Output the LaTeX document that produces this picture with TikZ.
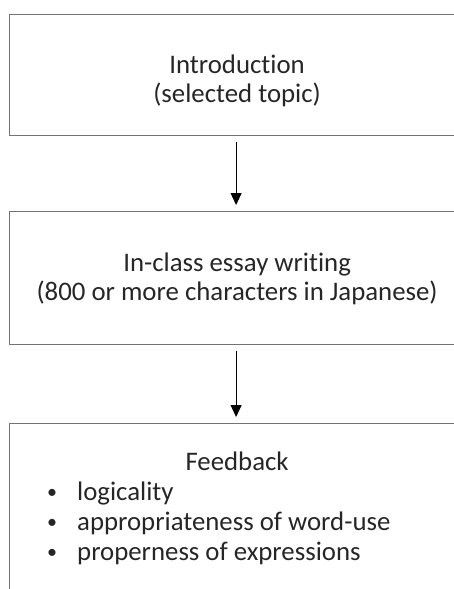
\documentclass[tikz,border=0pt]{standalone}
\usepackage{fontspec}
\setmainfont{Carlito}[Ligatures=NoCommon]
\usetikzlibrary{arrows.meta, positioning}

\newcommand{\fbbullet}{\makebox[31.5pt][l]{\hspace{1.5pt}\raisebox{2pt}{\fontsize{20}{20}\selectfont •}}}

\begin{document}
\begin{tikzpicture}[x=1pt, y=1pt, >=Triangle,
    stepbox/.style={draw=black!55, line width=1.2pt, minimum width=456pt, inner sep=0pt, anchor=north west},
    boxtext/.style={font=\fontsize{26.8}{29}\selectfont, text=black!85, inner sep=0pt, anchor=base},
    itemtext/.style={boxtext, anchor=base west},
    flow/.style={->, line width=0.9pt, shorten <=6pt, shorten >=6pt, >={Triangle[length=12pt, width=11pt]}}]
    \useasboundingbox (0,0) rectangle (454,-589);
    \clip (0,0) rectangle (454,-589);
    % the three steps
    \node[stepbox, minimum height=121pt] (intro) at (8.5,-14) {};
    \node[stepbox, minimum height=133pt] (essay) at (8.5,-211) {};
    \node[stepbox, minimum height=200pt] (feedback) at (8.5,-423) {};
    % texts
    \node[boxtext] (introA) at ([yshift=-59pt]intro.north) {Introduction};
    \node[boxtext] (introB) at ([yshift=-88pt]intro.north) {(selected topic)};
    \node[boxtext] (essayA) at ([yshift=-60pt]essay.north) {In-class essay writing};
    \node[boxtext] (essayB) at ([yshift=-89pt]essay.north) {(800 or more characters in Japanese)};
    \node[boxtext] (fbTitle) at ([yshift=-47pt]feedback.north) {Feedback};
    \node[itemtext] (fbA) at ([xshift=37pt, yshift=-77pt]feedback.north west) {\fbbullet logicality};
    \node[itemtext] (fbB) at ([xshift=37pt, yshift=-107pt]feedback.north west) {\fbbullet appropriateness of word-use};
    \node[itemtext] (fbC) at ([xshift=37pt, yshift=-137pt]feedback.north west) {\fbbullet properness of expressions};
    % arrows
    \draw[flow] ([xshift=-1pt]intro.south) -- ([xshift=-1pt]essay.north);
    \draw[flow] ([xshift=-1pt]essay.south) -- ([xshift=-1pt]feedback.north);
\end{tikzpicture}
\end{document}
